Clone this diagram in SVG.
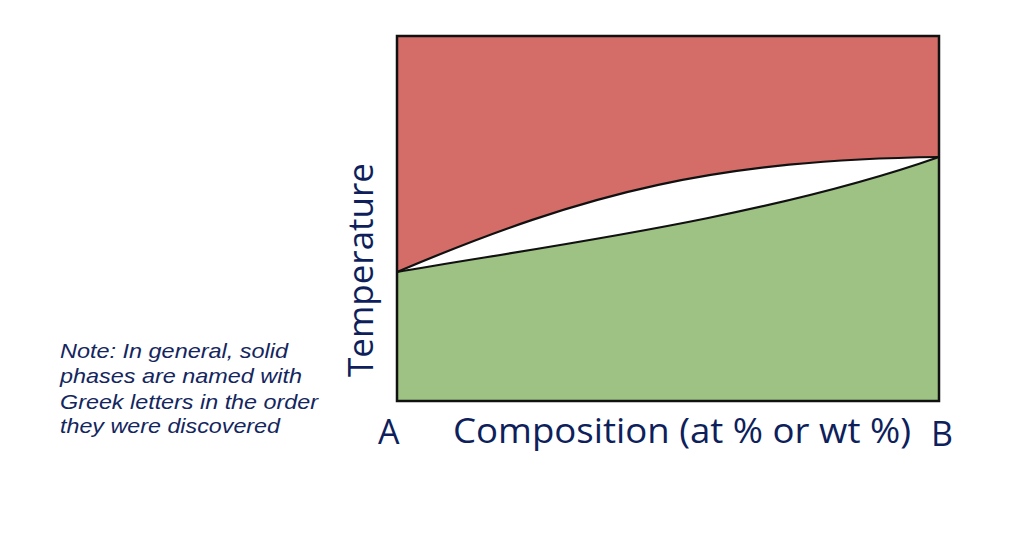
<svg xmlns="http://www.w3.org/2000/svg" width="1026" height="534" viewBox="0 0 1026 534">
<style>
.lbl{font-family:"Open Sans","Liberation Sans",sans-serif;fill:#0e1f5c}
.note{font-family:"Liberation Sans",Arial,sans-serif;font-style:italic;font-size:21px;fill:#14265e}
.edge{fill:none;stroke:#111;stroke-width:2.2}
</style>
<rect width="1026" height="534" fill="#fff"/>
<g id="liquid">
<path d="M397,36 H939 V157 C720,160 590,190 397,272 Z" fill="#d46d67"/>
</g>
<g id="two-phase">
<path d="M397,272 C590,190 720,160 939,157 C760,220 520,250 397,272 Z" fill="#fff"/>
</g>
<g id="solid">
<path d="M397,272 C520,250 760,220 939,157 V401 H397 Z" fill="#9dc283"/>
</g>
<g id="connectors">
<path class="edge" d="M397,272 C590,190 720,160 939,157"/>
<path class="edge" d="M397,272 C520,250 760,220 939,157"/>
<rect x="397" y="36" width="542" height="365" fill="none" stroke="#111" stroke-width="2.5"/>
</g>
<g id="labels">
<text class="lbl" x="378" y="444" font-size="34">A</text>
<text class="lbl" x="453" y="443" font-size="34" textLength="458" lengthAdjust="spacingAndGlyphs">Composition (at % or wt %)</text>
<text class="lbl" x="931" y="446" font-size="34">B</text>
<text class="lbl" transform="translate(373,377) rotate(-90)" font-size="34" textLength="214" lengthAdjust="spacingAndGlyphs">Temperature</text>
</g>
<g id="note">
<text class="note" x="60" y="358" textLength="228" lengthAdjust="spacingAndGlyphs">Note: In general, solid</text>
<text class="note" x="60" y="383" textLength="242" lengthAdjust="spacingAndGlyphs">phases are named with</text>
<text class="note" x="60" y="409" textLength="258" lengthAdjust="spacingAndGlyphs">Greek letters in the order</text>
<text class="note" x="60" y="433" textLength="220" lengthAdjust="spacingAndGlyphs">they were discovered</text>
</g>
</svg>
